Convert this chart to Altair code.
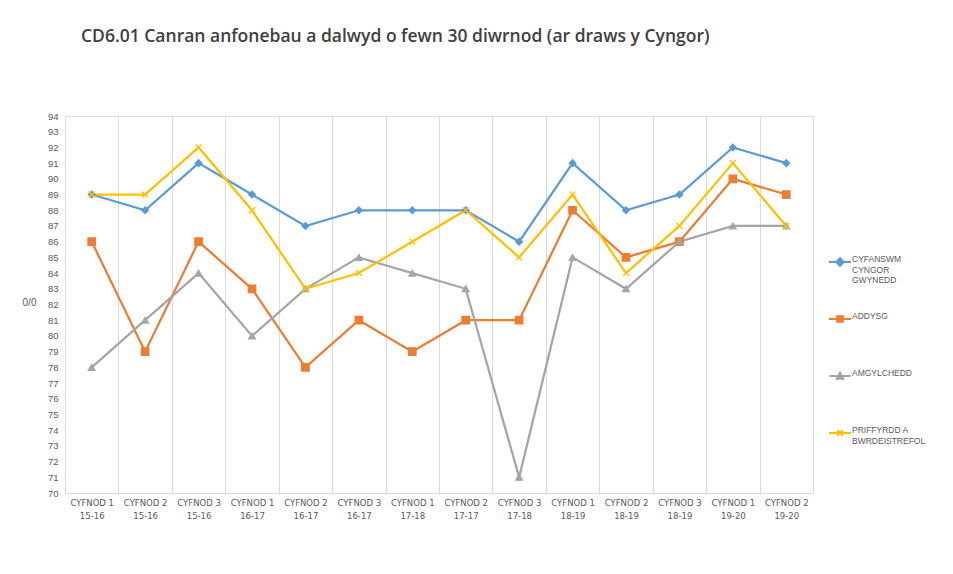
import altair as alt
import pandas as pd

periods = ["CYFNOD 1", "CYFNOD 2", "CYFNOD 3", "CYFNOD 1", "CYFNOD 2", "CYFNOD 3", "CYFNOD 1",
           "CYFNOD 2", "CYFNOD 3", "CYFNOD 1", "CYFNOD 2", "CYFNOD 3", "CYFNOD 1", "CYFNOD 2"]
years = ["15-16", "15-16", "15-16", "16-17", "16-17", "16-17", "17-18",
         "17-17", "17-18", "18-19", "18-19", "18-19", "19-20", "19-20"]

series_lines = [["CYFANSWM", "CYNGOR", "GWYNEDD"], ["ADDYSG"], ["AMGYLCHEDD"], ["PRIFFYRDD A", "BWRDEISTREFOL"]]
series_names = [" ".join(s) for s in series_lines]

cyfanswm = [89, 88, 91, 89, 87, 88, 88, 88, 86, 91, 88, 89, 92, 91]
addysg = [86, 79, 86, 83, 78, 81, 79, 81, 81, 88, 85, 86, 90, 89]
amgylchedd = [78, 81, 84, 80, 83, 85, 84, 83, 71, 85, 83, 86, 87, 87]
priffyrdd = [89, 89, 92, 88, 83, 84, 86, 88, 85, 89, 84, 87, 91, 87]

colors = ["#5B9BD5", "#ED7D31", "#A5A5A5", "#FFC000"]
xpath = "M-1,-1L1,1M-1,1L1,-1"
shapes = ["diamond", "square", "triangle-up", xpath]
marker_sizes = [45, 55, 45, 36]
legend_paths = [
    "M-1,0L1,0M0,-0.34L0.34,0L0,0.34L-0.34,0Z",
    "M-1,0L1,0M-0.26,-0.26L0.26,-0.26L0.26,0.26L-0.26,0.26Z",
    "M-1,0L1,0M0,-0.3L0.3,0.24L-0.3,0.24Z",
    "M-1,0L1,0M-0.25,-0.25L0.25,0.25M-0.25,0.25L0.25,-0.25",
]

categories = [p + "|" + y for p, y in zip(periods, years)]
rows = []
for name, vals in zip(series_names, [cyfanswm, addysg, amgylchedd, priffyrdd]):
    for c, v in zip(categories, vals):
        rows.append({"cyfnod": c, "cyfres": name, "gwerth": v})
df = pd.DataFrame(rows)


def js_list(items):
    return "[" + ",".join("'" + i + "'" for i in items) + "]"


names_js = js_list(series_names)
label_expr = "[" + ",".join(js_list(s) for s in series_lines) + "][indexof(" + names_js + ", datum.label)]"

color_scale = alt.Scale(domain=series_names, range=colors)

legend = alt.Legend(
    title=None, orient="none", legendX=763, legendY=134, padding=0,
    symbolSize=484, symbolOpacity=1, symbolStrokeWidth=2, rowPadding=22, gridAlign="all",
    labelFont="Liberation Sans", labelFontSize=8.5,
    labelColor="#595959", labelExpr=label_expr, labelBaseline="alphabetic", labelOffset=0,
    labelLimit=200,
)

x_enc = alt.X(
    "cyfnod:N", sort=categories, title=None,
    scale=alt.Scale(type="band", paddingInner=0, paddingOuter=0),
    axis=alt.Axis(
        grid=True, tickBand="extent", gridColor="#d9d9d9", domainColor="#d9d9d9",
        ticks=False, labelAngle=0, labelExpr="split(datum.label, '|')",
        labelFont="DejaVu Sans", labelFontSize=8.5, labelColor="#595959", labelPadding=5,
        labelLineHeight=13,
    ),
)
y_enc = alt.Y(
    "gwerth:Q", scale=alt.Scale(domain=[70, 94], nice=False, zero=False),
    axis=alt.Axis(
        values=list(range(70, 95)), grid=False, ticks=False, domainColor="#d9d9d9",
        labelFont="Liberation Sans", labelFontSize=9.5, labelColor="#595959", labelPadding=7,
        title="0/0", titleAngle=0, titleX=-36, titleY=186, titleAlign="center",
        titleBaseline="middle", titleFontWeight="normal", titleFont="Liberation Sans",
        titleFontSize=10, titleColor="#595959",
    ),
)

lines = alt.Chart(df).mark_line(strokeWidth=2.25).encode(
    x=x_enc, y=y_enc,
    color=alt.Color("cyfres:N", scale=color_scale, legend=legend),
)

legend_layer = alt.Chart(df).mark_point(filled=True, opacity=0).encode(
    x=x_enc, y=y_enc,
    color=alt.Color("cyfres:N", scale=color_scale, legend=legend),
    stroke=alt.Stroke("cyfres:N", scale=color_scale, legend=legend),
    shape=alt.Shape("cyfres:N", scale=alt.Scale(domain=series_names, range=legend_paths), legend=legend),
)

point_layers = []
for name, col, shp, sz in zip(series_names, colors, shapes, marker_sizes):
    filled = shp != xpath
    point_layers.append(
        alt.Chart(df[df["cyfres"] == name]).mark_point(
            shape=shp, filled=filled, color=col, stroke=col, fill=col if filled else None,
            strokeWidth=1.3, size=sz, opacity=1,
        ).encode(x=x_enc, y=y_enc)
    )

chart = alt.layer(lines, *point_layers, legend_layer).properties(
    width=748, height=377,
    padding={"top": 19, "left": 14, "right": 5, "bottom": 5},
    title=alt.TitleParams(
        "CD6.01 Canran anfonebau a dalwyd o fewn 30 diwrnod (ar draws y Cyngor)",
        anchor="start", frame="group", dx=16, offset=66, font="Open Sans", fontSize=17.5,
        fontWeight=600, color="#404040",
    ),
).configure_view(
    stroke="#9dc3e6", strokeDash=[2, 1], strokeWidth=1
).configure(background="white")

chart.save("out.html", embed_options={"renderer": "svg", "actions": False})
